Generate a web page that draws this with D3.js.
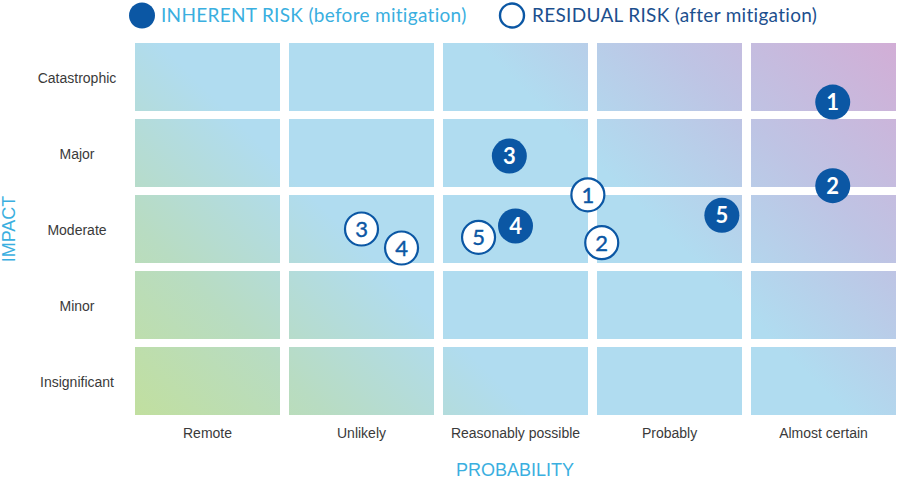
<!DOCTYPE html>
<html>
<head>
<meta charset="utf-8">
<script src="https://cdn.jsdelivr.net/npm/d3@7"></script>
<style>
  html, body { margin: 0; padding: 0; background: #fff; }
  svg { display: block; }
</style>
</head>
<body>
<svg id="chart" width="900" height="479"></svg>
<script>
// ---- data ----
const probabilityLabels = ["Remote", "Unlikely", "Reasonably possible", "Probably", "Almost certain"];
const impactLabels = ["Catastrophic", "Major", "Moderate", "Minor", "Insignificant"]; // top to bottom
const riskIds = ["1", "2", "3", "4", "5"];
// positions in grid units: probability 0..5 (left->right), impact 0..5 (bottom->top)
const inherentProbability = [4.56, 4.56, 2.46, 2.50, 3.84];
const inherentImpact      = [4.17, 3.07, 3.46, 2.54, 2.68];
const residualProbability = [2.97, 3.06, 1.50, 1.76, 2.26];
const residualImpact      = [2.95, 2.32, 2.50, 2.25, 2.39];
const legendLabels = ["INHERENT RISK (before mitigation)", "RESIDUAL RISK (after mitigation)"];
const axisTitles = { x: "PROBABILITY", y: "IMPACT" };

// ---- layout ----
const svg = d3.select("#chart");
const gridLeft = 135, gridRight = 896, gridTop = 43, gridBottom = 415;
const dark = "#0b57a4";
const lightBlue = "#3aafe0";
const labelFont = "'Liberation Sans', Arial, sans-serif";
const geoFont = "'Lato', 'DejaVu Sans', sans-serif";

const xBand = d3.scaleBand().domain(probabilityLabels).range([gridLeft, gridRight]).paddingInner(9 / 154).paddingOuter(0);
const yBand = d3.scaleBand().domain(impactLabels).range([gridTop, gridBottom]).paddingInner(8 / 76).paddingOuter(0);

const stepX = xBand.step(), stepY = yBand.step();
const gapX = stepX - xBand.bandwidth(), gapY = stepY - yBand.bandwidth();
const x = d3.scaleLinear().domain([0, 5]).range([gridLeft - gapX / 2, gridLeft - gapX / 2 + 5 * stepX]);
const y = d3.scaleLinear().domain([0, 5]).range([gridBottom + gapY / 2, gridBottom + gapY / 2 - 5 * stepY]);

// 45° gradient across the whole grid (bottom-left green -> blue -> top-right purple)
const W = gridRight - gridLeft, H = gridBottom - gridTop, half = (W + H) / 2;
const defs = svg.append("defs");
const grad = defs.append("linearGradient")
  .attr("id", "heat")
  .attr("gradientUnits", "userSpaceOnUse")
  .attr("x1", gridLeft).attr("y1", gridBottom)
  .attr("x2", gridLeft + half).attr("y2", gridBottom - half);
[[0, "#c1df9f"], [0.17, "#b8dcc2"], [0.35, "#b0dcf0"], [0.63, "#b0dcf0"], [0.8, "#bec4e4"], [1, "#d2aed6"]]
  .forEach(([o, c]) => grad.append("stop").attr("offset", o).attr("stop-color", c));

// cells
const cells = [];
impactLabels.forEach(r => probabilityLabels.forEach(c => cells.push({ r, c })));
svg.append("g").selectAll("rect").data(cells).join("rect")
  .attr("x", d => xBand(d.c))
  .attr("y", d => yBand(d.r))
  .attr("width", xBand.bandwidth())
  .attr("height", yBand.bandwidth())
  .attr("fill", "url(#heat)");

// axes
const yAxis = svg.append("g").attr("transform", `translate(${gridLeft},0)`)
  .call(d3.axisLeft(yBand).tickSize(0).tickPadding(0));
yAxis.select(".domain").remove();
yAxis.selectAll("text")
  .attr("x", 77 - gridLeft).attr("dy", "0.42em").attr("text-anchor", "middle")
  .attr("font-family", labelFont).attr("font-size", 14).attr("fill", "#3a3a3a");

const xAxis = svg.append("g").attr("transform", `translate(0,${gridBottom})`)
  .call(d3.axisBottom(xBand).tickSize(0).tickPadding(13));
xAxis.select(".domain").remove();
xAxis.selectAll("text")
  .attr("font-family", labelFont).attr("font-size", 14).attr("fill", "#3a3a3a");

// axis titles
svg.append("text").attr("x", 515).attr("y", 476)
  .attr("text-anchor", "middle").attr("font-family", labelFont).attr("font-size", 18)
  .attr("fill", lightBlue).text(axisTitles.x);
svg.append("text").attr("transform", `translate(15,${(gridTop + gridBottom) / 2}) rotate(-90)`)
  .attr("text-anchor", "middle").attr("font-family", labelFont).attr("font-size", 18)
  .attr("fill", lightBlue).text(axisTitles.y);

// markers
const inherent = riskIds.map((id, i) => ({ id, px: inherentProbability[i], iy: inherentImpact[i] }));
const residual = riskIds.map((id, i) => ({ id, px: residualProbability[i], iy: residualImpact[i] }));
const R = 17.5;

const gRes = svg.append("g").selectAll("g").data(residual).join("g")
  .attr("transform", d => `translate(${x(d.px)},${y(d.iy)})`);
gRes.append("circle").attr("r", R - 1).attr("fill", "#fff").attr("stroke", dark).attr("stroke-width", 2.2);
gRes.append("text").attr("text-anchor", "middle").attr("dy", "0.36em")
  .attr("font-family", geoFont).attr("font-size", 22).attr("font-weight", 400)
  .attr("stroke", dark).attr("stroke-width", 0.4)
  .attr("fill", dark).text(d => d.id);

const gInh = svg.append("g").selectAll("g").data(inherent).join("g")
  .attr("transform", d => `translate(${x(d.px)},${y(d.iy)})`);
gInh.append("circle").attr("r", R).attr("fill", dark);
gInh.append("text").attr("text-anchor", "middle").attr("dy", "0.36em")
  .attr("font-family", geoFont).attr("font-size", 22).attr("font-weight", 700)
  .attr("fill", "#fff").text(d => d.id);

// legend
const legend = svg.append("g");
legend.append("circle").attr("cx", 142).attr("cy", 15.5).attr("r", 13).attr("fill", dark);
legend.append("text").attr("x", 161).attr("y", 22)
  .attr("font-family", geoFont).attr("font-size", 19).attr("letter-spacing", 0.3)
  .attr("fill", lightBlue).text(legendLabels[0]);
legend.append("circle").attr("cx", 512).attr("cy", 15.5).attr("r", 12).attr("fill", "#fff")
  .attr("stroke", dark).attr("stroke-width", 2.4);
legend.append("text").attr("x", 532).attr("y", 22)
  .attr("font-family", geoFont).attr("font-size", 19).attr("letter-spacing", 0.3)
  .attr("fill", "#1c4f8e").text(legendLabels[1]);
</script>
</body>
</html>
